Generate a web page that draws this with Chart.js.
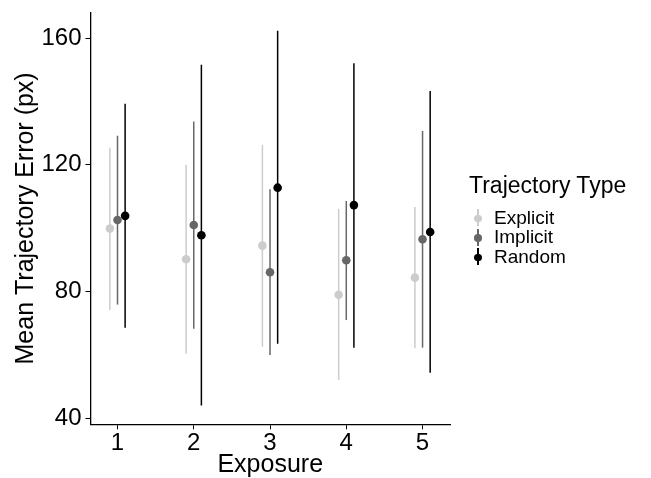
<!DOCTYPE html>
<html>
<head>
<meta charset="utf-8">
<script src="https://cdn.jsdelivr.net/npm/chart.js@4/dist/chart.umd.min.js"></script>
<style>
  html, body { margin: 0; padding: 0; background: #fff; }
  #wrap { position: relative; width: 651px; height: 478px; font-family: 'Liberation Sans', Arial, sans-serif; }
  #legend { position: absolute; left: 469px; top: 172px; color: #000; }
  #legend .title { font-size: 23px; margin-bottom: 9px; }
  #legend .item { display: flex; align-items: center; height: 19.5px; font-size: 19px; }
  #legend .key { position: relative; width: 17px; height: 19px; margin-right: 8px; }
  #legend .key .ln { position: absolute; left: 8px; top: 1px; width: 1.5px; height: 17px; }
  #legend .key .dt { position: absolute; left: 5px; top: 6.5px; width: 7.5px; height: 7.5px; border-radius: 50%; }
</style>
</head>
<body>
<div id="wrap">
  <canvas id="chart" width="651" height="478"></canvas>
  <div id="legend"></div>
</div>
<script>
const exposures = [1, 2, 3, 4, 5];
const seriesNames = ['Explicit', 'Implicit', 'Random'];
const seriesColors = ['#cccccc', '#676767', '#000000'];
const dodge = [-0.1, 0, 0.1];

const explicitMean = [99.9, 90.2, 94.5, 79.0, 84.4];
const explicitLow  = [74.2, 60.4, 62.6, 52.1, 62.1];
const explicitHigh = [125.4, 120.0, 126.3, 106.1, 106.7];

const implicitMean = [102.6, 101.0, 86.1, 89.9, 96.5];
const implicitLow  = [75.9, 68.3, 60.0, 71.0, 62.3];
const implicitHigh = [129.2, 133.7, 112.3, 108.6, 130.7];

const randomMean = [103.9, 97.8, 112.8, 107.3, 98.8];
const randomLow  = [68.6, 44.0, 63.5, 62.3, 54.4];
const randomHigh = [139.3, 151.6, 162.3, 152.1, 143.3];

const yTicks = [40, 80, 120, 160];

const means = [explicitMean, implicitMean, randomMean];
const lows = [explicitLow, implicitLow, randomLow];
const highs = [explicitHigh, implicitHigh, randomHigh];

const datasets = seriesNames.map((name, s) => ({
  label: name,
  data: exposures.map((x, i) => ({ x: x + dodge[s], y: means[s][i], lo: lows[s][i], hi: highs[s][i] })),
  backgroundColor: seriesColors[s],
  borderColor: seriesColors[s],
  pointRadius: 4.3,
  pointHoverRadius: 4.3,
  borderWidth: 0,
}));

// error bars drawn underneath the points, using the chart's own scales
const errorBars = {
  id: 'errorBars',
  beforeDatasetsDraw(chart) {
    const { ctx, scales: { x, y } } = chart;
    ctx.save();
    ctx.lineWidth = 1.5;
    chart.data.datasets.forEach(ds => {
      ctx.strokeStyle = ds.borderColor;
      ds.data.forEach(p => {
        const px = x.getPixelForValue(p.x);
        ctx.beginPath();
        ctx.moveTo(px, y.getPixelForValue(p.lo));
        ctx.lineTo(px, y.getPixelForValue(p.hi));
        ctx.stroke();
      });
    });
    ctx.restore();
  }
};

const font = "'Liberation Sans', Arial, sans-serif";

new Chart(document.getElementById('chart'), {
  type: 'scatter',
  data: { datasets },
  options: {
    responsive: false,
    animation: false,
    events: [],
    layout: { padding: { left: 0, top: 12.5, right: 201, bottom: 0 } },
    scales: {
      x: {
        type: 'linear',
        min: 0.646,
        max: 5.36,
        afterBuildTicks: axis => { axis.ticks = exposures.map(v => ({ value: v })); },
        afterFit: axis => { axis.height = 53.7; axis.paddingLeft = 0; axis.paddingRight = 0; },
        ticks: { color: '#000', font: { family: font, size: 24 }, padding: 0 },
        grid: { display: true, drawOnChartArea: false, drawTicks: true, tickLength: 5, color: '#000', lineWidth: 1 },
        border: { display: true, color: '#000', width: 1.3 },
        title: { display: true, text: 'Exposure', color: '#000', font: { family: font, size: 25, lineHeight: 1 }, padding: { top: 0, bottom: 0 } }
      },
      y: {
        min: 38.1,
        max: 168.1,
        afterBuildTicks: axis => { axis.ticks = yTicks.map(v => ({ value: v })); },
        afterFit: axis => { axis.width = 90.5; axis.paddingTop = 0; axis.paddingBottom = 0; },
        ticks: { color: '#000', font: { family: font, size: 24 }, padding: 4 },
        grid: { display: true, drawOnChartArea: false, drawTicks: true, tickLength: 5, color: '#000', lineWidth: 1 },
        border: { display: true, color: '#000', width: 1.3 },
        title: { display: true, text: 'Mean Trajectory Error (px)', color: '#000', font: { family: font, size: 25, lineHeight: 1 }, padding: { top: 13.5, bottom: 0 } }
      }
    },
    plugins: {
      legend: { display: false },
      tooltip: { enabled: false }
    }
  },
  plugins: [errorBars]
});

// legend in the ggplot style: title plus point-range keys
const legend = document.getElementById('legend');
legend.innerHTML = '<div class="title">Trajectory Type</div>' + seriesNames.map((name, s) =>
  `<div class="item"><span class="key"><span class="ln" style="background:${seriesColors[s]}"></span>` +
  `<span class="dt" style="background:${seriesColors[s]}"></span></span>${name}</div>`).join('');
</script>
</body>
</html>
